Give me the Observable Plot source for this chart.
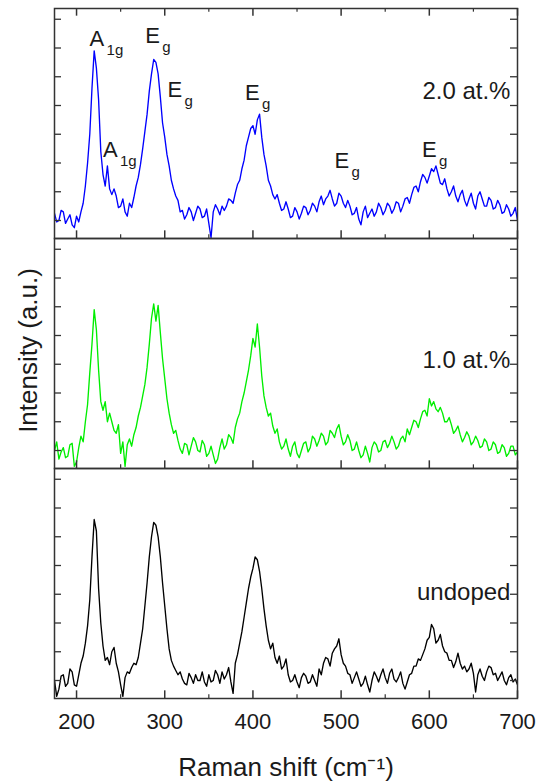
<!DOCTYPE html>
<html>
<head>
<meta charset="utf-8">
<script src="https://cdn.jsdelivr.net/npm/d3@7"></script>
<script src="https://cdn.jsdelivr.net/npm/@observablehq/plot@0.6"></script>
<style>
  html, body { margin: 0; padding: 0; background: #fff; }
</style>
</head>
<body>
<div id="chart"></div>
<script>
// Raman spectra of undoped and doped samples, stacked in three panels.
const samples = ["2.0 at.%", "1.0 at.%", "undoped"];
const sampleColors = ["#0000ff", "#00ee00", "#000000"];

// Raman shift grid (cm^-1), one row per 25 cm^-1
const shift = [
  175, 177.5, 180, 182.5, 185, 187.5, 190, 192.5, 195, 197.5,
  200, 202.5, 205, 207.5, 210, 212.5, 215, 217.5, 220, 222.5,
  225, 227.5, 230, 232.5, 235, 237.5, 240, 242.5, 245, 247.5,
  250, 252.5, 255, 257.5, 260, 262.5, 265, 267.5, 270, 272.5,
  275, 277.5, 280, 282.5, 285, 287.5, 290, 292.5, 295, 297.5,
  300, 302.5, 305, 307.5, 310, 312.5, 315, 317.5, 320, 322.5,
  325, 327.5, 330, 332.5, 335, 337.5, 340, 342.5, 345, 347.5,
  350, 352.5, 355, 357.5, 360, 362.5, 365, 367.5, 370, 372.5,
  375, 377.5, 380, 382.5, 385, 387.5, 390, 392.5, 395, 397.5,
  400, 402.5, 405, 407.5, 410, 412.5, 415, 417.5, 420, 422.5,
  425, 427.5, 430, 432.5, 435, 437.5, 440, 442.5, 445, 447.5,
  450, 452.5, 455, 457.5, 460, 462.5, 465, 467.5, 470, 472.5,
  475, 477.5, 480, 482.5, 485, 487.5, 490, 492.5, 495, 497.5,
  500, 502.5, 505, 507.5, 510, 512.5, 515, 517.5, 520, 522.5,
  525, 527.5, 530, 532.5, 535, 537.5, 540, 542.5, 545, 547.5,
  550, 552.5, 555, 557.5, 560, 562.5, 565, 567.5, 570, 572.5,
  575, 577.5, 580, 582.5, 585, 587.5, 590, 592.5, 595, 597.5,
  600, 602.5, 605, 607.5, 610, 612.5, 615, 617.5, 620, 622.5,
  625, 627.5, 630, 632.5, 635, 637.5, 640, 642.5, 645, 647.5,
  650, 652.5, 655, 657.5, 660, 662.5, 665, 667.5, 670, 672.5,
  675, 677.5, 680, 682.5, 685, 687.5, 690, 692.5, 695, 697.5,
  700
];

// Intensity (a.u.), 2.0 at.%
const doped20 = [
  1.25, 0.95, 1.0, 1.35, 1.3, 0.9, 1.05, 1.2, 0.85, 0.75,
  1.15, 0.95, 1.3, 1.6, 2.2, 3.0, 4.0, 5.6, 6.9, 6.3,
  5.2, 3.4, 2.6, 2.2, 2.9, 2.1, 1.9, 2.1, 1.85, 1.45,
  1.5, 1.75, 1.3, 1.15, 1.6, 1.45, 1.8, 2.2, 2.5, 2.95,
  3.5, 4.1, 4.7, 5.5, 6.1, 6.6, 6.5, 6.1, 5.3, 4.4,
  3.9, 3.3, 2.9, 2.4, 2.1, 1.85, 1.7, 1.3, 1.35, 1.05,
  1.2, 1.45, 1.3, 1.0, 1.25, 1.5, 1.4, 1.1, 1.15, 1.4,
  0.9, 0.4, 1.3, 1.55, 1.4, 1.2, 1.5, 1.35, 1.5, 1.75,
  1.7, 1.6, 1.95, 2.25, 2.4, 2.8, 3.1, 3.6, 3.9, 4.2,
  4.3, 4.0, 4.5, 4.7, 3.9, 3.3, 2.9, 2.4, 2.2, 1.9,
  1.75, 1.9, 1.6, 1.35, 1.4, 1.65, 1.4, 1.1, 1.15, 1.45,
  1.3, 1.05, 1.25, 1.5, 1.45, 1.2, 1.35, 1.6, 1.5, 1.3,
  1.65, 1.85, 1.55, 1.75, 1.85, 2.05, 1.75, 1.5, 1.6, 1.95,
  1.85, 1.6, 1.45, 1.7, 1.5, 1.2, 1.25, 1.45, 1.05, 0.85,
  1.3, 1.5, 1.1, 1.25, 1.4, 1.15, 1.3, 1.6, 1.45, 1.2,
  1.35, 1.6, 1.5, 1.25, 1.4, 1.65, 1.6, 1.3, 1.5, 1.75,
  1.8, 1.6, 1.9, 2.15, 2.2, 2.0, 2.35, 2.6, 2.5, 2.3,
  2.55, 2.8, 2.7, 2.9, 2.6, 2.3, 2.25, 2.45, 2.1, 1.85,
  2.0, 2.2, 1.85, 1.65, 1.9, 2.05, 1.7, 1.5, 1.75, 1.95,
  1.6, 1.4, 1.85, 2.0, 1.75, 1.5, 1.5, 1.8, 1.7, 1.4,
  1.45, 1.7, 1.55, 1.25, 1.3, 1.55, 1.4, 1.15, 1.25, 1.45,
  1.0
];

// Intensity (a.u.), 1.0 at.%
const doped10 = [
  1.0, 1.3, 0.7, 0.95, 1.1, 0.75, 0.8, 1.2, 1.25, 0.45,
  0.6, 1.1, 1.5, 1.3, 2.0, 2.6, 3.7, 4.7, 5.9, 5.2,
  3.8, 2.7, 2.4, 2.7, 2.0, 2.3, 2.0, 1.7, 1.6, 1.9,
  0.9, 1.3, 0.45, 1.2, 1.4, 1.15, 1.55, 1.8, 2.2, 2.5,
  2.9, 3.3, 3.9, 4.7, 5.6, 6.1, 5.5, 6.05, 5.1, 4.2,
  3.5, 2.8, 2.3, 1.9, 1.6, 1.7, 1.35, 1.05, 0.9, 1.25,
  1.2, 0.85, 1.15, 1.45, 1.3, 1.0, 0.95, 1.35, 1.2, 0.8,
  0.9, 1.15, 0.85, 0.55, 0.7, 1.1, 1.4, 1.05, 1.2, 1.55,
  1.45, 1.25, 1.8, 2.1, 2.3, 2.7, 3.0, 3.4, 3.8, 4.3,
  4.9, 4.6, 5.4, 4.6, 3.6, 2.9, 2.5, 2.2, 2.3, 1.85,
  1.6, 1.75, 1.3, 1.05, 1.15, 1.4, 1.05, 0.8, 1.15, 1.3,
  0.9, 0.75, 1.0, 1.25, 1.3, 0.95, 1.1, 1.5, 1.4, 1.15,
  1.35, 1.6, 1.5, 1.2, 1.3, 1.7, 1.6, 1.45, 1.75, 1.9,
  1.5, 1.2, 1.3, 1.55, 1.35, 1.0, 1.05, 1.3, 1.0, 0.75,
  0.85, 1.15, 0.9, 0.6, 1.1, 1.3, 1.2, 0.95, 1.0, 1.3,
  1.35, 1.1, 1.25, 1.5, 1.3, 1.05, 1.15, 1.4, 1.5, 1.3,
  1.75, 1.55, 1.8, 2.05, 2.0, 1.8, 2.1, 2.35, 2.4, 2.2,
  2.8, 2.55, 2.7, 2.45, 2.35, 2.5, 2.3, 2.0, 2.0, 2.15,
  1.9, 1.6, 1.7, 1.85, 1.55, 1.3, 1.45, 1.65, 1.5, 1.2,
  1.3, 1.5, 1.35, 1.1, 1.15, 1.4, 1.3, 1.0, 1.05, 1.3,
  1.2, 0.9, 0.95, 1.2, 1.1, 0.8, 0.9, 1.15, 1.15, 0.85,
  0.95
];

// Intensity (a.u.), undoped
const undoped = [
  1.0, 0.45, 0.7, 1.15, 1.2, 0.8, 0.9, 1.4, 1.3, 0.85,
  0.8, 1.2, 1.6, 1.85, 2.3, 2.9, 3.8, 5.3, 6.6, 6.2,
  4.2, 3.0, 2.2, 1.7, 1.8, 1.55, 2.0, 2.15, 1.6, 1.3,
  0.85, 0.45, 1.1, 1.3, 1.25, 1.45, 1.6, 1.55, 1.8, 2.3,
  2.8, 3.6, 4.4, 5.3, 6.0, 6.5, 6.4, 6.0, 5.3, 4.4,
  3.6, 2.8, 2.1, 1.7, 1.5, 1.35, 1.2, 1.3, 1.05, 0.9,
  0.85, 1.25, 1.1, 0.9, 1.2, 1.0, 1.0, 1.3, 0.95, 0.8,
  1.2, 0.95, 1.0, 1.35, 1.2, 0.9, 1.3, 1.05, 1.2, 1.45,
  0.95, 0.55, 1.6, 1.9, 2.3, 2.7, 3.2, 3.7, 4.2, 4.6,
  4.9, 5.3, 5.2, 4.8, 4.2, 3.5, 2.9, 2.4, 2.1, 2.3,
  1.8, 1.6, 1.85, 1.4, 1.5, 1.75, 1.2, 0.95, 1.0, 1.2,
  0.95, 0.75, 1.1, 1.25, 1.15, 0.9, 0.95, 1.2, 1.0, 0.8,
  1.4, 1.2, 1.6, 1.8, 1.75, 1.5, 1.95, 2.1, 2.2, 2.45,
  1.9, 1.6, 1.5, 1.25, 1.2, 0.9, 1.1, 1.3, 1.05, 0.8,
  0.9, 1.15, 0.85, 0.6, 1.0, 1.3, 1.15, 0.95, 1.2, 1.4,
  1.1, 0.9, 1.25, 1.4, 1.05, 0.95, 1.1, 1.3, 0.9, 0.7,
  0.95, 1.2, 1.25, 1.5, 1.5, 1.75, 1.7, 1.9, 2.1, 2.4,
  2.5, 2.95, 2.8, 2.3, 2.4, 2.6, 2.2, 2.0, 1.95, 1.7,
  1.7, 1.45, 1.65, 1.95, 1.6, 1.4, 1.5, 1.3, 1.4, 1.6,
  1.25, 0.6, 1.2, 1.4, 1.15, 1.0, 1.3, 1.5, 1.45, 1.2,
  1.25, 1.0, 1.15, 1.3, 1.0, 0.85, 1.1, 1.2, 0.95, 1.05,
  0.85
];

const spectra = [doped20, doped10, undoped];

// Axis ticks
const xMajorTicks = [200, 300, 400, 500, 600, 700];
const xMinorTicks = [250, 350, 450, 550, 650];
const yTicks = [1, 2, 3, 4, 5, 6, 7, 8];

// Phonon mode labels in the 2.0 at.% panel
const modeSymbol = ["A", "E", "E", "A", "E", "E", "E"];
const modeSubscript = ["1g", "g", "g", "1g", "g", "g", "g"];
const modeShift = [214.8, 278, 303, 230, 391, 492.5, 591.7];
const modeLevel = [7.07, 7.16, 5.3, 3.21, 5.19, 2.82, 3.22];

// Sample name labels, one per panel
const sampleLabelShift = [692, 692, 692];
const sampleLabelLevel = [5.23, 3.86, 3.79];

// Layout
const W = 537, H = 782;
const ML = 54, MR = 20, MT = 7, MB = 84;
const panelH = (H - MT - MB) / samples.length;
const plotW = W - ML - MR;
const frameColor = "#333";
const textColor = "#1a1a1a";

const rows = samples.flatMap((s, k) =>
  shift.map((x, i) => ({sample: s, shift: x, intensity: spectra[k][i]}))
);
const modes = modeSymbol.map((m, i) => ({
  sample: samples[0], symbol: m, sub: modeSubscript[i], shift: modeShift[i], level: modeLevel[i]
}));
const sampleLabels = samples.map((s, i) => ({
  sample: s, shift: sampleLabelShift[i], level: sampleLabelLevel[i]
}));
const bottomPanel = samples[samples.length - 1];

const chart = Plot.plot({
  width: W,
  height: H,
  marginLeft: ML,
  marginRight: MR,
  marginTop: MT,
  marginBottom: MB,
  style: {fontFamily: "Arial, 'Liberation Sans', Helvetica, sans-serif", background: "#fff", color: textColor},
  x: {domain: [175, 700], axis: null},
  y: {domain: [0.374, 8.374], axis: null},
  fy: {domain: samples, padding: 0, axis: null},
  color: {domain: samples, range: sampleColors},
  marks: [
    Plot.line(rows, {x: "shift", y: "intensity", fy: "sample", stroke: "sample", strokeWidth: 1.35, clip: true}),
    Plot.frame({stroke: frameColor, strokeWidth: 1.5}),
    // inward ticks along the bottom of every panel
    Plot.ruleX(xMajorTicks, {x: d => d, stroke: frameColor, strokeWidth: 1.5, insetTop: panelH - 8}),
    Plot.ruleX(xMinorTicks, {x: d => d, stroke: frameColor, strokeWidth: 1.2, insetTop: panelH - 4}),
    // inward ticks along the top of the first panel
    Plot.ruleX(xMajorTicks, {x: d => d, fy: () => samples[0], stroke: frameColor, strokeWidth: 1.5, insetBottom: panelH - 8}),
    Plot.ruleX(xMinorTicks, {x: d => d, fy: () => samples[0], stroke: frameColor, strokeWidth: 1.2, insetBottom: panelH - 4}),
    // inward ticks on both vertical edges
    Plot.ruleY(yTicks, {y: d => d, stroke: frameColor, strokeWidth: 1.3, insetRight: plotW - 7}),
    Plot.ruleY(yTicks, {y: d => d, stroke: frameColor, strokeWidth: 1.3, insetLeft: plotW - 7}),
    // x tick labels
    Plot.text(xMajorTicks, {
      x: d => d, fy: () => bottomPanel, frameAnchor: "bottom", dy: 30,
      lineAnchor: "bottom", fontSize: 22, fill: textColor
    }),
    // axis titles
    Plot.text(["Raman shift (cm⁻¹)"], {
      fy: () => bottomPanel, frameAnchor: "bottom", dy: 77,
      lineAnchor: "bottom", fontSize: 26, fill: textColor
    }),
    Plot.text(["Intensity (a.u.)"], {
      fy: () => samples[1], frameAnchor: "left", dx: -18, dy: -3, rotate: -90,
      textAnchor: "middle", lineAnchor: "bottom", fontSize: 26, fill: textColor
    }),
    // mode labels with subscripts
    Plot.text(modes, {
      x: "shift", y: "level", fy: "sample", text: "symbol",
      textAnchor: "start", lineAnchor: "bottom", fontSize: 22, fill: textColor
    }),
    Plot.text(modes, {
      x: "shift", y: "level", fy: "sample", text: "sub", dx: 17, dy: 9,
      textAnchor: "start", lineAnchor: "bottom", fontSize: 15, fill: textColor
    }),
    // sample names
    Plot.text(sampleLabels, {
      x: "shift", y: "level", fy: "sample", text: "sample",
      textAnchor: "end", lineAnchor: "bottom", fontSize: 24, fill: textColor
    })
  ]
});

document.getElementById("chart").append(chart);
</script>
</body>
</html>
